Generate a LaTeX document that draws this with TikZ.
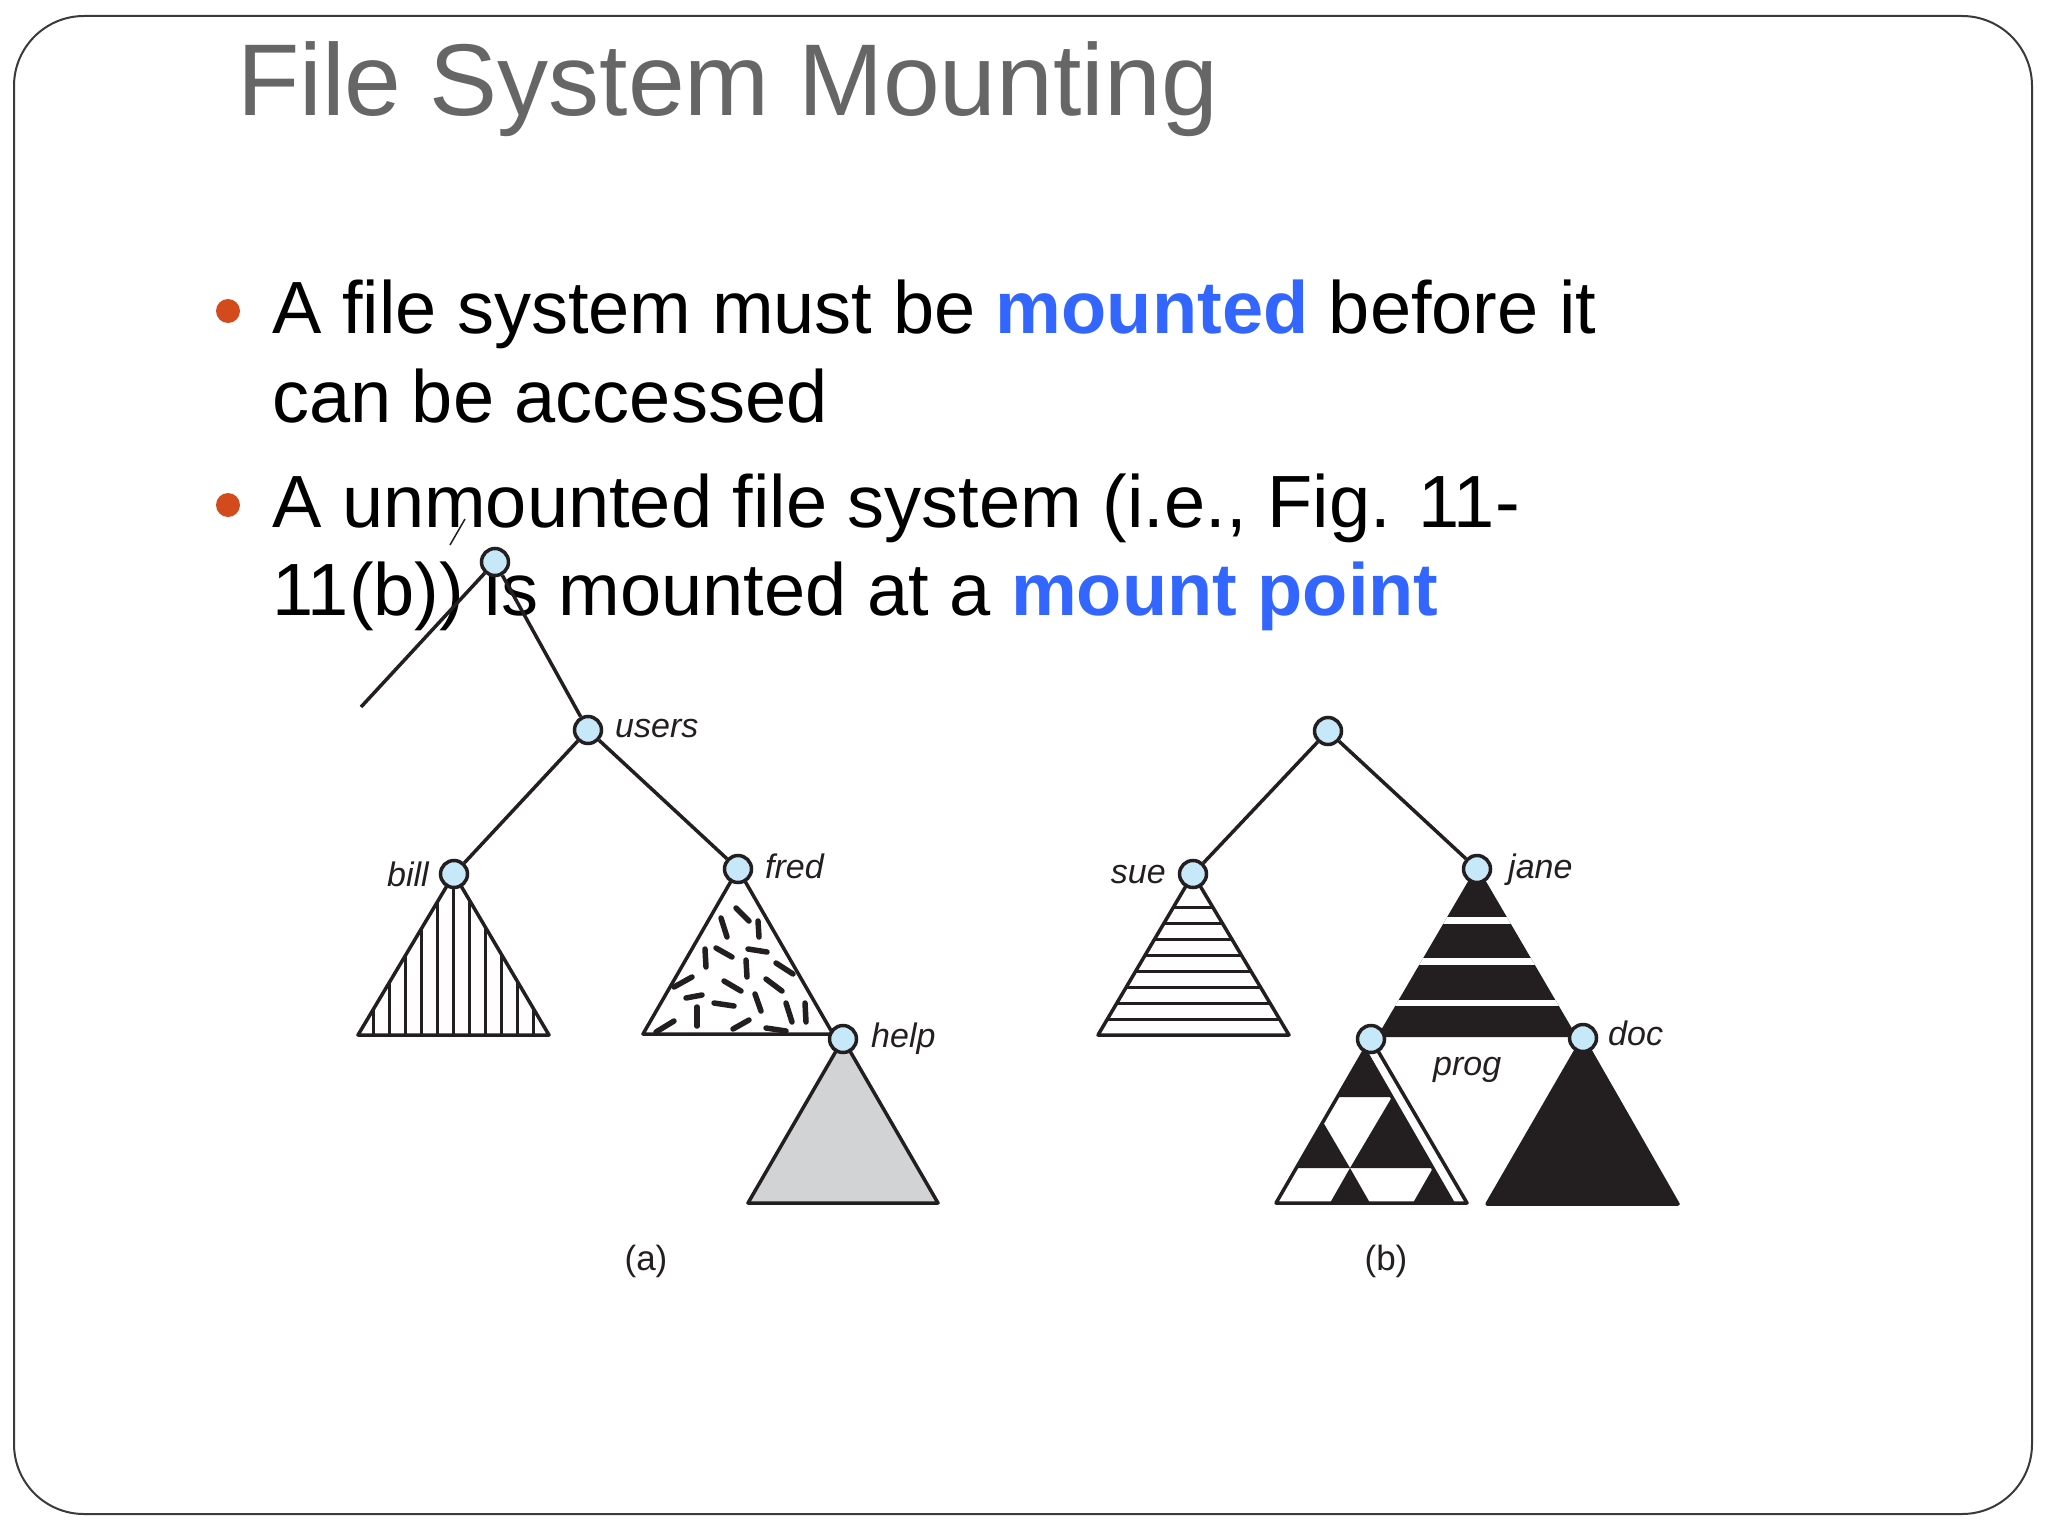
\documentclass[tikz,border=0pt]{standalone}
\usepackage{fontspec}
\setmainfont{Liberation Sans}
\definecolor{inkc}{HTML}{231F20}
\definecolor{nodeblue}{HTML}{C7E8F8}
\definecolor{helpgray}{HTML}{D1D3D4}
\definecolor{titlegray}{HTML}{666666}
\definecolor{bulletc}{HTML}{D34A1D}
\definecolor{hiblue}{HTML}{3366FF}
\definecolor{framec}{HTML}{3A3A3A}
\begin{document}
\begin{tikzpicture}[x=1pt,y=-1pt,
  ln/.style={line width=3.5pt, draw=inkc, line join=round},
  thinln/.style={line width=3pt, draw=inkc},
  dashmark/.style={line width=5.5pt, draw=inkc, line cap=round},
  dnode/.style={circle, draw=inkc, line width=3.5pt, fill=nodeblue, inner sep=0pt, minimum size=27pt},
  lbl/.style={font=\fontsize{34}{40}\selectfont\itshape, inner sep=0pt, text=inkc},
  captext/.style={font=\fontsize{35}{40}\selectfont, inner sep=0pt, text=inkc, anchor=base},
  body/.style={font=\fontsize{74}{88}\selectfont, inner sep=0pt, anchor=base west, text=black},
  bulletdot/.style={circle, fill=bulletc, inner sep=0pt, minimum size=24pt}
]
\useasboundingbox (0,0) rectangle (2048,1536);
\fill[white] (0,0) rectangle (2048,1536);
% frame
\draw[rounded corners=70pt, line width=2pt, draw=framec] (14,16) rectangle (2032,1514);

% title
\node[anchor=base west, inner sep=0pt, font=\fontsize{102}{120}\selectfont, text=titlegray] (title) at (237,116) {File System Mounting};

% bullets and text
\node[bulletdot] (b1) at (228,311) {};
\node[bulletdot] (b2) at (228,505) {};
\node[body] (l1) at (272,333) {A file system must be {\bfseries\color{hiblue}mounted} before it};
\node[body] (l2) at (272,422) {can be accessed};
\node[body] (l3) at (272,527) {A unmounted file system (i.e., Fig. 11-};
\node[body] (l4) at (272,615) {11(b)) is mounted at a {\bfseries\color{hiblue}mount point}};

% ---------- (a) triangles ----------
% bill: vertical stripes
\begin{scope}
  \clip (454,874) -- (358,1035) -- (549,1035) -- cycle;
  \foreach \x in {373,389,...,533} \draw[thinln] (\x,860) -- (\x,1040);
\end{scope}
\draw[ln] (454,874) -- (358,1035) -- (549,1035) -- cycle;

% fred: random dashes
\fill[white] (738,869) -- (643,1034) -- (833,1034) -- cycle;
\begin{scope}
  \clip (738,869) -- (643,1034) -- (833,1034) -- cycle;
  \draw[dashmark] (736,908) -- (749,921);
  \draw[dashmark] (721,918) -- (727,937);
  \draw[dashmark] (758,921) -- (759,937);
  \draw[dashmark] (705,949) -- (706,967);
  \draw[dashmark] (716,948) -- (732,957);
  \draw[dashmark] (748,949) -- (767,952);
  \draw[dashmark] (746,960) -- (747,977);
  \draw[dashmark] (776,963) -- (793,974);
  \draw[dashmark] (674,987) -- (692,977);
  \draw[dashmark] (724,981) -- (741,991);
  \draw[dashmark] (766,979) -- (782,991);
  \draw[dashmark] (686,998) -- (702,995);
  \draw[dashmark] (697,1007) -- (697,1026);
  \draw[dashmark] (714,1003) -- (734,1006);
  \draw[dashmark] (755,994) -- (761,1011);
  \draw[dashmark] (786,1003) -- (792,1022);
  \draw[dashmark] (805,1003) -- (806,1022);
  \draw[dashmark] (656,1032) -- (674,1021);
  \draw[dashmark] (733,1029) -- (749,1020);
  \draw[dashmark] (766,1028) -- (786,1031);
\end{scope}
\draw[ln] (738,869) -- (643,1034) -- (833,1034) -- cycle;

% help: grey
\filldraw[ln, fill=helpgray] (843,1039) -- (748,1203) -- (938,1203) -- cycle;

% ---------- (b) triangles ----------
% sue: horizontal stripes
\begin{scope}
  \clip (1193,874) -- (1098,1035) -- (1289,1035) -- cycle;
  \foreach \y in {1019.1,1003.2,987.3,971.4,955.5,939.6,923.7,907.8}
    \draw[thinln] (1090,\y) -- (1300,\y);
\end{scope}
\draw[ln] (1193,874) -- (1098,1035) -- (1289,1035) -- cycle;

% jane: black with white bands
\begin{scope}
  \clip (1477,866) -- (1377,1037) -- (1577,1037) -- cycle;
  \fill[inkc] (1300,850) rectangle (1700,1040);
  \fill[white] (1300,917) rectangle (1700,923.5);
  \fill[white] (1300,957.5) rectangle (1700,965);
  \fill[white] (1300,999.5) rectangle (1700,1006);
\end{scope}

% doc: solid black
\filldraw[ln, fill=inkc] (1583,1038) -- (1487,1204) -- (1678,1204) -- cycle;

% prog: checkered pattern
\fill[white] (1371,1039) -- (1276,1203) -- (1467,1203) -- cycle;
\fill[inkc] (1365,1050) -- (1337,1097) -- (1392,1097) -- cycle;
\fill[inkc] (1392,1097) -- (1350,1168) -- (1433,1168) -- cycle;
\fill[inkc] (1323,1122) -- (1296,1168) -- (1350,1168) -- cycle;
\fill[inkc] (1350,1168) -- (1330,1203) -- (1370,1203) -- cycle;
\fill[inkc] (1433,1168) -- (1413,1203) -- (1453,1203) -- cycle;
\draw[ln] (1366,1052) -- (1453,1203);
\draw[ln] (1371,1039) -- (1276,1203) -- (1467,1203) -- cycle;

% ---------- nodes ----------
\node[dnode] (ra) at (495,562) {};
\node[dnode] (users) at (588,730) {};
\node[dnode] (bill) at (454,874) {};
\node[dnode] (fred) at (738,869) {};
\node[dnode] (help) at (843,1039) {};
\node[dnode] (rb) at (1328,731) {};
\node[dnode] (sue) at (1193,874) {};
\node[dnode] (jane) at (1477,869) {};
\node[dnode] (prog) at (1371,1039) {};
\node[dnode] (doc) at (1583,1038) {};

\coordinate (rafree) at (361,707);
\coordinate (tickA) at (465,519);
\coordinate (tickB) at (450,545);

% ---------- connectors ----------
\draw[ln] (ra) -- (users);
\draw[ln] (ra) -- (rafree);
\draw[ln] (users) -- (bill);
\draw[ln] (users) -- (fred);
\draw[line width=1.5pt, draw=inkc] (tickA) -- (tickB);
\draw[ln] (rb) -- (sue);
\draw[ln] (rb) -- (jane);

% ---------- labels ----------
\node[lbl, anchor=base west] (userslbl) at (615,737) {users};
\node[lbl, anchor=base east] (billlbl) at (429,886) {bill};
\node[lbl, anchor=base west] (fredlbl) at (765,878) {fred};
\node[lbl, anchor=base west] (helplbl) at (871,1047) {help};
\node[lbl, anchor=base east] (suelbl) at (1166,883) {sue};
\node[lbl, anchor=base west] (janelbl) at (1508,878) {jane};
\node[lbl, anchor=base west] (doclbl) at (1608,1045) {doc};
\node[lbl, anchor=base west] (proglbl) at (1433,1075) {prog};

\node[captext] (capa) at (646,1270) {(a)};
\node[captext] (capb) at (1386,1270) {(b)};
\end{tikzpicture}
\end{document}
